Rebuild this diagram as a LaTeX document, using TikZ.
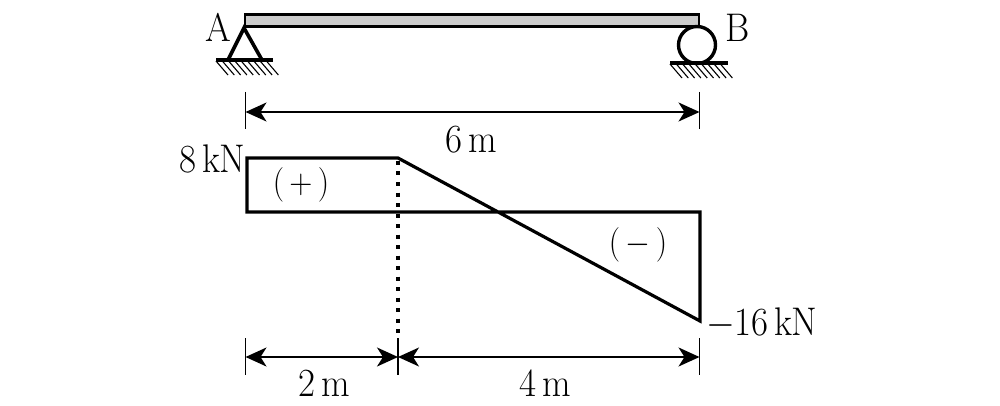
\documentclass[tikz,border=0pt]{standalone}
\usepackage{fix-cm}
\usepackage{graphicx}
\usepackage{xcolor}
\usetikzlibrary{arrows.meta}
\colorlet{beamgray}{black!20}
\newcommand\lbl[1]{\scalebox{1}[1.08]{\fontsize{37}{42}\selectfont #1}}
\newcommand\sgn[1]{\scalebox{1}[1.08]{\fontsize{32}{38}\selectfont #1}}
\newcommand\kN{\,k\kern-1pt N}
\tikzstyle{lab}=[inner sep=0pt,outer sep=0pt]
\tikzstyle{thick3}=[line width=3.2pt,line join=miter]
\tikzstyle{thin2}=[line width=1.6pt]
\tikzstyle{dim}=[line width=1.7pt,{Stealth[length=21pt,width=19pt,inset=6pt]}-{Stealth[length=21pt,width=19pt,inset=6pt]}]
\tikzstyle{hatch}=[line width=1.1pt]
\begin{document}
\begin{tikzpicture}[x=1pt,y=-1pt]
	\useasboundingbox (0,0) rectangle (1000,406);
	% beam and supports
	\coordinate (beamA) at (245,14.5);
	\coordinate (beamB) at (699,26.5);
	\draw[line width=2.8pt,fill=beamgray] (beamA) rectangle (beamB);
	\coordinate (pin) at (244,28);
	\coordinate (pinL) at (228,60);
	\coordinate (pinR) at (262,60);
	\coordinate (groundAl) at (216,60);
	\coordinate (groundAr) at (273,60);
	\draw[line width=3.6pt] (pinL) -- (pin) -- (pinR);
	\draw[thick3] (groundAl) -- (groundAr);
	\foreach \x in {0,1,...,8}
		\draw[hatch] (216+6.3*\x,61) -- ++(12,14);
	\node[draw,circle,line width=3.4pt,minimum size=37pt,inner sep=0pt] (roller) at (697,45) {};
	\coordinate (groundBl) at (670,63);
	\coordinate (groundBr) at (728,63);
	\draw[thick3] (groundBl) -- (groundBr);
	\foreach \x in {0,1,...,8}
		\draw[hatch] (670+6.3*\x,64) -- ++(12,14);
	\node[lab] (A) at (218,27) {\lbl{A}};
	\node[lab] (B) at (738,28) {\lbl{B}};
	% shear diagram
	\coordinate (p1) at (247,158);
	\coordinate (p2) at (398,158);
	\coordinate (p3) at (700,321);
	\coordinate (p4) at (700,212);
	\coordinate (p5) at (247,212);
	\draw[thick3] (p2) -- (p1) -- (p5) -- (p4) -- (p3) -- cycle;
	\coordinate (p6) at (398,336);
	\draw[line width=3.4pt,dash pattern=on 4pt off 6.5pt] (p2) ++(0,3) -- (p6);
	\node[lab,anchor=east] (V1) at (245,159) {\lbl{8\kN}};
	\node[lab,anchor=west] (V2) at (706,323) {\lbl{$-$16\kN}};
	\node[lab] (plus) at (301,185) {\sgn{$(\,+\,)$}};
	\node[lab] (minus) at (638,245) {\sgn{$(\,-\,)$}};
	% dimensions
	\coordinate (t1) at (245.5,92);
	\coordinate (t2) at (245.5,129);
	\coordinate (t3) at (699.5,92);
	\coordinate (t4) at (699.5,129);
	\draw[thin2] (t1) -- (t2);
	\draw[thin2] (t3) -- (t4);
	\coordinate (d1) at (245.5,112);
	\coordinate (d2) at (699.5,112);
	\draw[dim] (d1) -- (d2);
	\node[lab] (L) at (471,140) {\lbl{6\,m}};
	\coordinate (b1) at (245.5,338);
	\coordinate (b2) at (245.5,375);
	\coordinate (b3) at (398,338);
	\coordinate (b4) at (398,375);
	\coordinate (b5) at (699.5,338);
	\coordinate (b6) at (699.5,375);
	\draw[thin2] (b1) -- (b2);
	\draw[thin2] (b3) -- (b4);
	\draw[thin2] (b5) -- (b6);
	\coordinate (e1) at (245.5,357);
	\coordinate (e2) at (398,357);
	\coordinate (e3) at (699.5,357);
	\draw[dim] (e1) -- (e2);
	\draw[dim] (e2) -- (e3);
	\node[lab] (L1) at (324,383) {\lbl{2\,m}};
	\node[lab] (L2) at (545,383) {\lbl{4\,m}};
\end{tikzpicture}
\end{document}
